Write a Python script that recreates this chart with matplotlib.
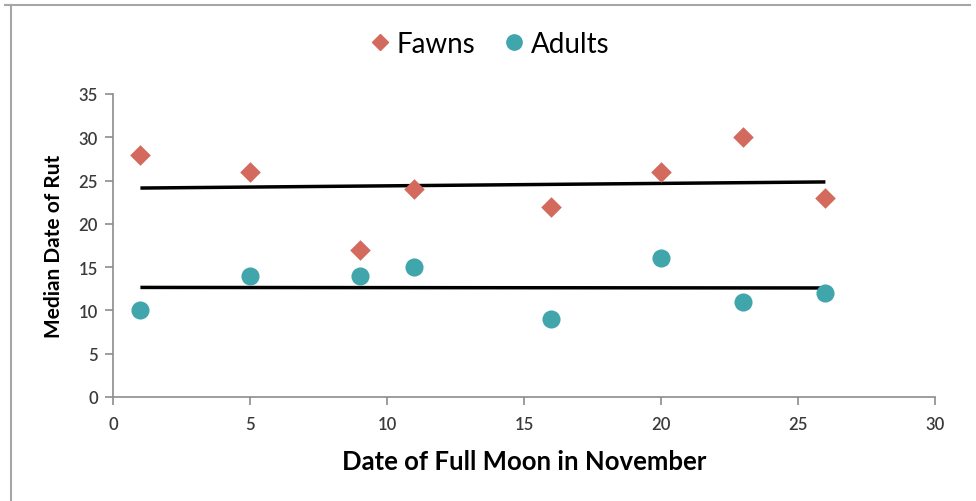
import numpy as np
import matplotlib
matplotlib.use("Agg")
import matplotlib.pyplot as plt
from matplotlib.lines import Line2D

# --- DATA ---
moon_dates = [1, 5, 9, 11, 16, 20, 23, 26]
fawns_rut = [28, 26, 17, 24, 22, 26, 30, 23]
adults_rut = [10, 14, 14, 15, 9, 16, 11, 12]

FAWN_COLOR = "#D36A5D"
ADULT_COLOR = "#41A5AC"
AXIS_GRAY = "#8C8C8C"

plt.rcParams["font.family"] = ["Lato", "DejaVu Sans"]

fig = plt.figure(figsize=(9.76, 5.02), dpi=100)
ax = fig.add_axes([113 / 976, 1 - 398 / 502, (935 - 113) / 976, (398 - 95) / 502])

ax.scatter(moon_dates, fawns_rut, marker="D", s=110, color=FAWN_COLOR, zorder=3, linewidths=0)
ax.scatter(moon_dates, adults_rut, marker="o", s=170, color=ADULT_COLOR, zorder=3, linewidths=0)

# linear trend lines over the range of the data
x = np.array(moon_dates, dtype=float)
xs = np.array([x.min(), x.max()])
for ys in (fawns_rut, adults_rut):
    k, b = np.polyfit(x, ys, 1)
    ax.plot(xs, k * xs + b, color="black", lw=2.5, zorder=2, solid_capstyle="butt")

ax.set_xlim(0, 30)
ax.set_ylim(0, 35)
ax.set_xticks(range(0, 31, 5))
ax.set_yticks(range(0, 36, 5))

for side in ("top", "right"):
    ax.spines[side].set_visible(False)
for side in ("left", "bottom"):
    ax.spines[side].set_color(AXIS_GRAY)
    ax.spines[side].set_linewidth(1.2)
ax.tick_params(axis="both", colors=AXIS_GRAY, length=6, width=1.2, direction="out",
               labelcolor="#3A3A3A", labelsize=12)
for lbl in ax.get_xticklabels() + ax.get_yticklabels():
    lbl.set_fontweight("semibold")
ax.tick_params(axis="x", pad=8)
ax.tick_params(axis="y", pad=5)

ax.set_xlabel("Date of Full Moon in November", fontsize=18.5, fontweight="bold", labelpad=12)
ax.set_ylabel("Median Date of Rut", fontsize=15, fontweight="bold", labelpad=10)

handles = [
    Line2D([], [], marker="D", color=FAWN_COLOR, ls="none", markersize=8.5),
    Line2D([], [], marker="o", color=ADULT_COLOR, ls="none", markersize=11),
]
fig.legend(handles, ["Fawns", "Adults"], loc="center", bbox_to_anchor=(0.5, 1 - 45 / 502),
           ncol=2, frameon=False, fontsize=20, handletextpad=0.1, columnspacing=0.9,
           handlelength=1.0)

# chart border (top and left edges)
fig.add_artist(Line2D([5 / 976, 970 / 976], [1 - 6 / 502, 1 - 6 / 502], color="#A6A6A6", lw=1.5))
fig.add_artist(Line2D([11 / 976, 11 / 976], [0, 1 - 6 / 502], color="#A6A6A6", lw=1.5))

fig.savefig("out.png", dpi=100)
